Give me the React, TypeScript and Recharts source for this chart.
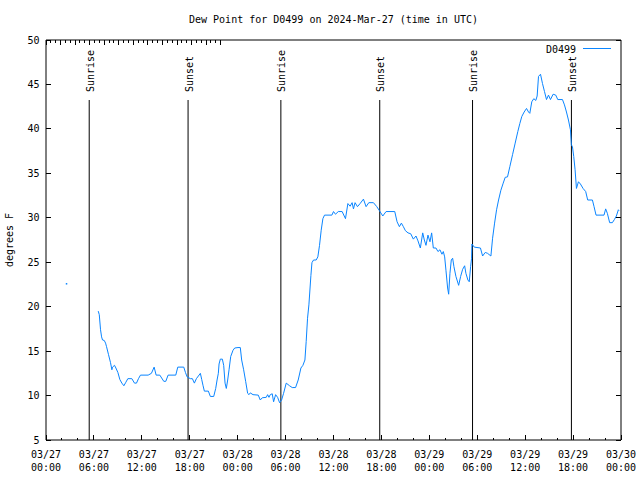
import React from 'react';
import { LineChart, Line, XAxis, YAxis, ReferenceLine, ReferenceDot, Legend } from 'recharts';

const FONT = '"DejaVu Sans Mono", "Liberation Mono", monospace';
const LINE_COLOR = '#0a85ff';

// time in hours since 2024-03-27 00:00 UTC
const hours: number[] = [
  2.54, 4.5,
  6.54, 6.67, 6.83, 6.96, 7.08, 7.29, 7.46, 7.58, 7.83, 8.08, 8.25, 8.33, 8.58, 8.75,
  9.0, 9.25, 9.5, 9.75, 10.0, 10.25, 10.75, 11.08, 11.33, 11.58, 11.83, 12.79, 13.2, 13.54,
  13.79, 14.25, 14.75, 15.0, 15.29, 16.25, 16.5, 17.25, 17.46, 17.67, 18.08, 18.33, 18.58, 18.83,
  19.08, 19.33, 19.5, 19.67, 19.83, 20.33, 20.58, 21.0, 21.25, 21.42, 21.58, 21.67, 21.83, 22.08,
  22.25, 22.42, 22.58, 22.75, 22.92, 23.13, 23.42, 23.63, 24.04, 24.33, 24.5, 24.75, 25.0, 25.25,
  25.42, 25.58, 25.92, 26.58, 26.83, 27.08, 27.58, 27.75, 27.92, 28.08, 28.33, 28.5, 28.75, 29.0,
  29.25, 29.5, 29.75, 30.08, 30.5, 30.83, 31.25, 31.58, 31.92, 32.17, 32.42, 32.58, 32.75, 32.92,
  33.17, 33.3, 33.5, 33.83, 34.04, 34.25, 34.46, 34.67, 34.875, 35.8, 36.0, 36.25, 36.6, 37.08,
  37.5, 37.8, 38.08, 38.33, 38.5, 38.7, 39.0, 39.33, 39.75, 40.08, 40.42, 41.0, 41.42, 41.75,
  42.17, 42.58, 43.67, 43.96, 44.25, 44.5, 44.75, 45.0, 45.33, 45.67, 46.0, 46.33, 46.58, 46.875,
  47.17, 47.375, 47.58, 47.83, 48.08, 48.29, 48.5, 48.83, 49.08, 49.33, 49.58, 49.75, 49.92, 50.08,
  50.29, 50.42, 50.58, 50.75, 50.92, 51.08, 51.33, 51.67, 51.92, 52.17, 52.42, 52.58, 52.83, 53.0,
  53.17, 53.29, 53.33, 53.625, 54.4, 54.67, 55.0, 55.29, 55.71, 55.92, 56.17, 56.42, 56.67, 56.96,
  57.25, 57.5, 57.79, 58.08, 58.42, 58.75, 59.08, 59.33, 59.58, 59.875, 60.17, 60.42, 60.58, 60.83,
  61.08, 61.33, 61.5, 61.67, 61.92, 62.17, 62.42, 62.67, 62.92, 63.17, 63.5, 63.83, 64.08, 64.67,
  64.92, 65.17, 65.42, 65.67, 65.79, 65.92, 66.08, 66.25, 66.42, 66.67, 66.92, 67.25, 67.58, 67.83,
  68.42, 68.625, 68.875, 69.875, 70.08, 70.29, 70.58, 70.92, 71.17, 71.42, 71.67, 71.75,
];

const dewPoint: (number | null)[] = [
  22.6, null,
  19.5, 19.1, 17.4, 16.6, 16.25, 16.2, 15.9, 15.5, 14.6, 13.7, 12.9, 13.2, 13.4, 13.1,
  12.6, 11.8, 11.4, 11.1, 11.5, 11.9, 11.9, 11.4, 11.4, 11.9, 12.3, 12.3, 12.5, 13.2,
  12.3, 12.3, 11.6, 11.6, 12.3, 12.3, 13.2, 13.2, 12.6, 12.1, 11.9, 11.9, 11.4, 11.9,
  12.2, 12.5, 11.8, 11.1, 10.5, 10.5, 9.9, 9.9, 10.8, 11.75, 12.5, 13.55, 14.1, 14.1,
  13.4, 11.4, 10.8, 11.75, 12.9, 14.4, 15.1, 15.35, 15.4, 15.4, 14.0, 12.9, 11.6, 10.25,
  10.1, 10.3, 10.1, 10.05, 9.5, 9.75, 9.8, 10.1, 9.8, 10.1, 10.2, 9.3, 10.1, 9.8,
  9.2, 9.5, 10.25, 11.4, 11.1, 10.9, 10.9, 11.75, 13.1, 13.4, 14.0, 16.1, 18.7, 20.2,
  23.5, 24.95, 25.25, 25.25, 25.6, 26.9, 28.6, 29.9, 30.3, 30.3, 30.7, 30.4, 30.7, 30.7,
  29.9, 31.6, 31.3, 31.7, 31.0, 31.7, 31.25, 31.6, 32.1, 31.25, 31.7, 31.7, 31.25, 30.8,
  30.2, 30.7, 30.7, 29.55, 29.0, 29.4, 29.0, 28.55, 28.3, 28.2, 27.6, 27.95, 27.4, 26.6,
  28.3, 27.5, 26.9, 28.05, 27.3, 28.3, 26.6, 26.6, 26.2, 26.4, 25.9, 26.2, 25.6, 24.1,
  22.1, 21.4, 23.75, 25.25, 25.45, 24.5, 23.4, 22.4, 23.4, 24.2, 24.6, 23.75, 23.0, 22.8,
  24.5, 25.45, 27.05, 26.7, 26.6, 25.7, 26.1, 26.0, 25.7, 27.7, 29.4, 30.9, 32.0, 33.1,
  33.9, 34.55, 34.6, 35.75, 37.1, 38.4, 39.7, 40.6, 41.4, 41.9, 42.3, 41.9, 41.75, 43.05,
  43.4, 43.2, 43.7, 45.9, 46.15, 45.1, 44.2, 43.3, 43.8, 43.3, 43.9, 43.8, 43.3, 43.3,
  42.7, 41.9, 41.0, 39.9, 38.2, 38.0, 36.9, 35.4, 33.3, 34.05, 33.8, 33.3, 32.95, 32.0,
  32.0, 31.25, 30.3, 30.3, 31.0, 30.5, 29.45, 29.45, 29.8, 30.2, 30.9, 30.8,
];

const xMajorTicks = [0, 6, 12, 18, 24, 30, 36, 42, 48, 54, 60, 66, 72];
const xMinorTicks = [0, 2, 4, 6, 8, 10, 12, 14, 16, 18, 20, 22, 24, 26, 28, 30, 32, 34, 36, 38, 40, 42, 44, 46, 48, 50, 52, 54, 56, 58, 60, 62, 64, 66, 68, 70, 72];
const xTickDates = ['03/27', '03/27', '03/27', '03/27', '03/28', '03/28', '03/28', '03/28', '03/29', '03/29', '03/29', '03/29', '03/30'];
const xTickTimes = ['00:00', '06:00', '12:00', '18:00', '00:00', '06:00', '12:00', '18:00', '00:00', '06:00', '12:00', '18:00', '00:00'];
const yTicks = [5, 10, 15, 20, 25, 30, 35, 40, 45, 50];

const sunHours = [5.41, 17.79, 29.41, 41.79, 53.41, 65.79];
const sunLabels = ['Sunrise', 'Sunset', 'Sunrise', 'Sunset', 'Sunrise', 'Sunset'];

const Y_MIN = 5;
const Y_MAX = 50;
const SUN_LINE_TOP = Y_MIN + 0.85 * (Y_MAX - Y_MIN);
const SUN_LABEL_POS = Y_MIN + 0.87 * (Y_MAX - Y_MIN);

const data = hours.map((h, i) => ({ hour: h, dew: dewPoint[i] }));

const textStyle = { fontFamily: FONT, fontSize: 10, fill: '#000' };

const MAJOR_LEN = 5;
const MINOR_LEN = 2.5;

const BottomTick = (props: any) => {
  const { x, y, payload } = props;
  const idx = xMajorTicks.indexOf(payload.value);
  const major = idx >= 0;
  return (
    <g>
      <line x1={x} x2={x} y1={y} y2={y - (major ? MAJOR_LEN : MINOR_LEN)} stroke="#000" shapeRendering="crispEdges" />
      {major && (
        <text x={x} y={y + 17.5} textAnchor="middle" style={textStyle}>{xTickDates[idx]}</text>
      )}
      {major && (
        <text x={x} y={y + 30.5} textAnchor="middle" style={textStyle}>{xTickTimes[idx]}</text>
      )}
    </g>
  );
};

const TopTick = (props: any) => {
  const { x, y, payload } = props;
  const major = xMajorTicks.indexOf(payload.value) >= 0;
  return <line x1={x} x2={x} y1={y} y2={y + (major ? MAJOR_LEN : MINOR_LEN)} stroke="#000" shapeRendering="crispEdges" />;
};

const LeftTick = (props: any) => {
  const { x, y, payload } = props;
  return (
    <g>
      <line x1={x} x2={x + MAJOR_LEN} y1={y} y2={y} stroke="#000" shapeRendering="crispEdges" />
      <text x={x - 6.5} y={y + 3.6} textAnchor="end" style={textStyle}>{payload.value}</text>
    </g>
  );
};

const RightTick = (props: any) => {
  const { x, y } = props;
  return <line x1={x} x2={x - MAJOR_LEN} y1={y} y2={y} stroke="#000" shapeRendering="crispEdges" />;
};

const renderDot = (props: any) => {
  const { cx, cy, index } = props;
  const prev = index > 0 ? data[index - 1].dew : null;
  const next = index < data.length - 1 ? data[index + 1].dew : null;
  const cur = data[index].dew;
  if (cur != null && prev == null && next == null && cx != null && cy != null) {
    return <rect key={`d${index}`} x={cx - 0.5} y={cy - 0.5} width={1.5} height={1.5} fill={LINE_COLOR} />;
  }
  return <g key={`d${index}`} />;
};

const LegendContent = () => (
  <svg width={90} height={14} style={{ display: 'block' }}>
    <text x={36} y={10.6} textAnchor="end" style={textStyle}>D0499</text>
    <line x1={43} x2={71} y1={6.5} y2={6.5} stroke={LINE_COLOR} strokeWidth={1} />
  </svg>
);

export default function App() {
  return (
    <div style={{ position: 'absolute', left: 0, top: 0, width: 640, height: 480, background: '#fff' }}>
      <div
        style={{
          position: 'absolute', left: 46, top: 14, width: 575, textAlign: 'center',
          fontFamily: FONT, fontSize: 10, lineHeight: '12px', color: '#000', whiteSpace: 'nowrap',
        }}
      >
        Dew Point for D0499 on 2024-Mar-27 (time in UTC)
      </div>
      <div
        style={{
          position: 'absolute', left: 10, top: 240, transform: 'translate(-50%, -50%) rotate(-90deg)',
          fontFamily: FONT, fontSize: 10, lineHeight: '12px', color: '#000', whiteSpace: 'nowrap',
        }}
      >
        degrees F
      </div>
      <LineChart
        width={640}
        height={480}
        data={data}
        margin={{ top: 0, right: 0, bottom: 0, left: 0 }}
        style={{ position: 'absolute', left: 0, top: 0 }}
      >
        <XAxis
          dataKey="hour"
          type="number"
          domain={[0, 72]}
          ticks={xMinorTicks}
          interval={0}
          allowDataOverflow
          height={40}
          tickSize={0}
          tickMargin={0}
          tickLine={false}
          axisLine={{ stroke: '#000' }}
          tick={<BottomTick />}
        />
        <XAxis
          xAxisId="top"
          orientation="top"
          type="number"
          domain={[0, 72]}
          ticks={xMinorTicks}
          interval={0}
          allowDataOverflow
          height={40}
          tickSize={0}
          tickMargin={0}
          tickLine={false}
          axisLine={{ stroke: '#000' }}
          tick={<TopTick />}
        />
        <YAxis
          type="number"
          domain={[Y_MIN, Y_MAX]}
          ticks={yTicks}
          interval={0}
          allowDataOverflow
          width={46}
          tickSize={0}
          tickMargin={0}
          tickLine={false}
          axisLine={{ stroke: '#000' }}
          tick={<LeftTick />}
        />
        <YAxis
          yAxisId="right"
          orientation="right"
          type="number"
          domain={[Y_MIN, Y_MAX]}
          ticks={yTicks}
          interval={0}
          allowDataOverflow
          width={19}
          tickSize={0}
          tickMargin={0}
          tickLine={false}
          axisLine={{ stroke: '#000' }}
          tick={<RightTick />}
        />
        {sunHours.map((h, i) => (
          <ReferenceLine
            key={`sl${i}`}
            segment={[{ x: h, y: Y_MIN }, { x: h, y: SUN_LINE_TOP }]}
            stroke="#000"
            strokeWidth={1}
            ifOverflow="visible"
          />
        ))}
        {sunHours.map((h, i) => (
          <ReferenceDot
            key={`sd${i}`}
            x={h}
            y={SUN_LABEL_POS}
            r={0}
            ifOverflow="visible"
            shape={(p: any) => (
              <text
                x={p.cx}
                y={p.cy}
                transform={`rotate(-90 ${p.cx} ${p.cy})`}
                textAnchor="start"
                dominantBaseline="central"
                dy={1}
                style={textStyle}
              >
                {sunLabels[i]}
              </text>
            )}
          />
        ))}
        <Line
          type="linear"
          dataKey="dew"
          name="D0499"
          stroke={LINE_COLOR}
          strokeWidth={1}
          dot={renderDot}
          activeDot={false}
          connectNulls={false}
          isAnimationActive={false}
        />
        <Legend
          layout="vertical"
          align="center"
          verticalAlign="middle"
          wrapperStyle={{ position: 'absolute', top: 42, left: 540, width: 90 }}
          content={<LegendContent />}
        />
      </LineChart>
    </div>
  );
}
